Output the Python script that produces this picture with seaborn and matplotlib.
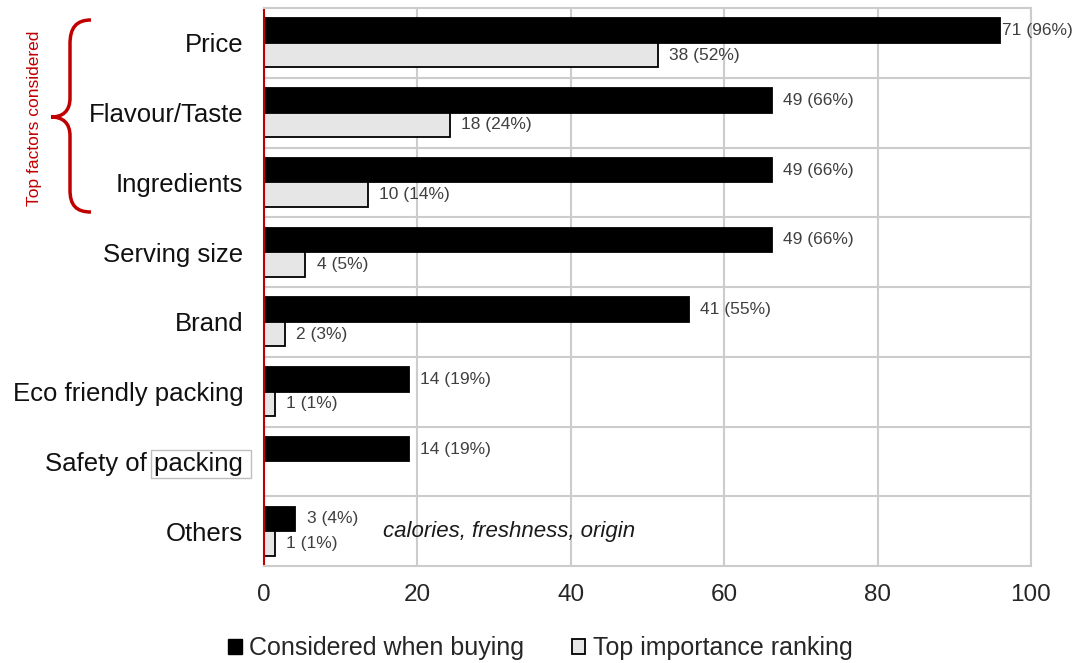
import numpy as np
import pandas as pd
import matplotlib
matplotlib.use("Agg")
import matplotlib.pyplot as plt
import seaborn as sns
from matplotlib.path import Path
from matplotlib.patches import PathPatch, Rectangle, Patch

factors = ["Price", "Flavour/Taste", "Ingredients", "Serving size", "Brand",
           "Eco friendly packing", "Safety of packing", "Others"]
series = ["Considered when buying", "Top importance ranking"]
considered_n = [71, 49, 49, 49, 41, 14, 14, 3]
considered_lbl_pct = [96, 66, 66, 66, 55, 19, 19, 4]
considered_pct = [95.9, 66.2, 66.2, 66.2, 55.4, 18.9, 18.9, 4.1]
top_n = [38, 18, 10, 4, 2, 1, None, 1]
top_lbl_pct = [52, 24, 14, 5, 3, 1, None, 1]
top_pct = [51.4, 24.3, 13.5, 5.4, 2.7, 1.4, None, 1.4]
xticks = [0, 20, 40, 60, 80, 100]

sns.set_style("white")
plt.rcParams["font.family"] = ["Liberation Sans", "DejaVu Sans"]

rows = []
for f, n, p, lp in zip(factors, considered_n, considered_pct, considered_lbl_pct):
    rows.append(dict(factor=f, series=series[0], pct=p, n=n, lp=lp))
for f, n, p, lp in zip(factors, top_n, top_pct, top_lbl_pct):
    if n is not None:
        rows.append(dict(factor=f, series=series[1], pct=p, n=n, lp=lp))
df = pd.DataFrame(rows)

W, H = 1072, 663
fig = plt.figure(figsize=(W / 100, H / 100), dpi=100)
ax = fig.add_axes([264 / W, 1 - 566 / H, (1031 - 264) / W, (566 - 8) / H])

RED = "#C00000"
GRID = "#cccccc"

sns.barplot(data=df, y="factor", x="pct", hue="series", orient="h",
            order=factors, hue_order=series, palette=["black", "#e6e6e6"],
            edgecolor="black", linewidth=1.3, width=0.7, ax=ax, legend=False)

for cont, s in zip(ax.containers, series):
    sub = df[df.series == s].set_index("factor")
    present = [f for f in factors if f in sub.index]
    labs = [f"{int(sub.loc[f, 'n'])} ({int(sub.loc[f, 'lp'])}%)" for f in present]
    txts = ax.bar_label(cont, labels=labs, padding=8, fontsize=12.5, color="#404040")
    for t, f in zip(txts, present):
        if f == "Price" and s == series[0]:
            t.xyann = (2, 0)

ax.set_xlim(0, 100)
ax.set_ylim(7.5, -0.5)
ax.set_xticks(xticks)
ax.set_xticklabels([str(t) for t in xticks], fontsize=17.5)
ax.set_yticks(range(len(factors)))
ax.set_yticklabels(factors, fontsize=18.5, color="#111111")
ax.set_yticks(np.arange(0.5, 7.0, 1.0), minor=True)
ax.tick_params(which="both", length=0)
ax.tick_params(axis="y", pad=15)
ax.tick_params(axis="x", pad=13)
ax.set_xlabel("")
ax.set_ylabel("")
ax.set_axisbelow(True)
ax.grid(axis="x", which="major", color=GRID, lw=1.5)
ax.grid(axis="y", which="minor", color=GRID, lw=1.5)
for sp in ["top", "right", "bottom"]:
    ax.spines[sp].set_color(GRID)
    ax.spines[sp].set_linewidth(1.5)
ax.spines["left"].set_color(RED)
ax.spines["left"].set_linewidth(1.5)

ax.text(15.5, 7.0, "calories, freshness, origin", style="italic", fontsize=16,
        va="center", ha="left", color="#1a1a1a")

# Legend
handles = [Patch(facecolor="black", edgecolor="black"),
           Patch(facecolor="#e6e6e6", edgecolor="black", linewidth=1.3)]
fig.legend(handles, series, loc="center", bbox_to_anchor=(0.504, 1 - 648 / H),
           ncol=2, frameon=False, fontsize=18, handlelength=0.55, handleheight=0.55,
           handletextpad=0.3, columnspacing=1.9)

# Brace
def fp(x, y):
    return (x / W, 1 - y / H)

verts = [fp(91, 20), fp(76, 20), fp(70, 28), fp(70, 44),
         fp(70, 98),
         fp(70, 111), fp(63, 117), fp(51, 117),
         fp(63, 117), fp(70, 123), fp(70, 136),
         fp(70, 190),
         fp(70, 205), fp(76, 212), fp(91, 212)]
codes = [Path.MOVETO, Path.CURVE4, Path.CURVE4, Path.CURVE4,
         Path.LINETO,
         Path.CURVE4, Path.CURVE4, Path.CURVE4,
         Path.CURVE4, Path.CURVE4, Path.CURVE4,
         Path.LINETO,
         Path.CURVE4, Path.CURVE4, Path.CURVE4]
fig.patches.append(PathPatch(Path(verts, codes), transform=fig.transFigure,
                             facecolor="none", edgecolor=RED, lw=2.5))
fig.text(35 / W, 1 - 118 / H, "Top factors considered", rotation=90,
         fontsize=12.5, color=RED, ha="center", va="center")

# Box around "packing"
fig.canvas.draw()
renderer = fig.canvas.get_renderer()
for lab in ax.get_yticklabels():
    if lab.get_text() == "Safety of packing":
        bb = lab.get_window_extent(renderer)
        t = fig.text(0, 0, "packing", fontsize=18.5)
        wb = t.get_window_extent(renderer)
        t.remove()
        x0 = bb.x1 - wb.width - 3
        x1 = bb.x1 + 8
        y0 = bb.y0 - 2
        y1 = bb.y1 + 2
        fig.patches.append(Rectangle((x0 / W, y0 / H), (x1 - x0) / W, (y1 - y0) / H,
                                     transform=fig.transFigure, facecolor="none",
                                     edgecolor="#bfbfbf", lw=1.0))

fig.savefig("out.png", dpi=100)
